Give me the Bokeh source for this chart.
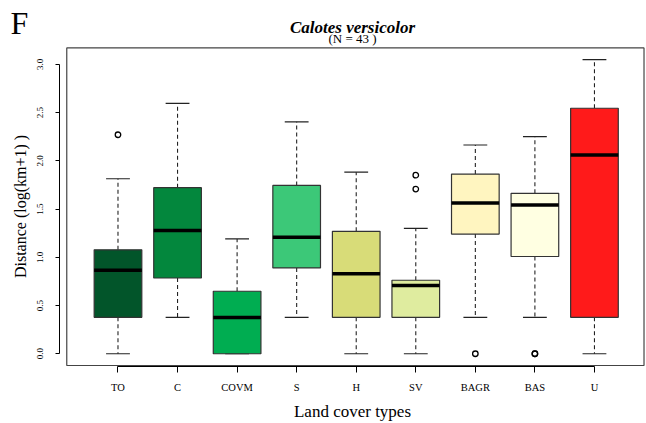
from bokeh.plotting import figure
from bokeh.models import Range1d, FixedTicker, Title, ColumnDataSource
from bokeh.embed import file_html
from bokeh.resources import INLINE

# ---------------- data ----------------
categories = ["TO", "C", "COVM", "S", "H", "SV", "BAGR", "BAS", "U"]
lower_whisker = [0.0, 0.377, 0.0, 0.377, 0.0, 0.0, 0.377, 0.377, 0.0]
q1 = [0.377, 0.785, 0.0, 0.89, 0.377, 0.377, 1.24, 1.008, 0.377]
median = [0.865, 1.277, 0.375, 1.207, 0.83, 0.707, 1.563, 1.543, 2.06]
q3 = [1.077, 1.722, 0.648, 1.745, 1.269, 0.762, 1.862, 1.663, 2.545]
upper_whisker = [1.814, 2.596, 1.19, 2.404, 1.882, 1.30, 2.164, 2.25, 3.048]
outlier_category = ["TO", "SV", "SV", "BAGR", "BAS", "BAS"]
outlier_value = [2.27, 1.851, 1.707, 0.0, 0.0, 0.0]
box_colors = ["#02552A", "#03873D", "#00AD51", "#3CC878", "#D8DC78",
              "#DFEC9F", "#FFF5C0", "#FFFFE2", "#FF1A1A"]
y_ticks = [0.0, 0.5, 1.0, 1.5, 2.0, 2.5, 3.0]
y_tick_labels = ["0.0", "0.5", "1.0", "1.5", "2.0", "2.5", "3.0"]
title_text = "Calotes versicolor"
subtitle_text = "(N = 43 )"
panel_letter = "F"
x_title = "Land cover types"
y_title = "Distance (log(km+1) )"

# ---------------- styling ----------------
SERIF = "Liberation Serif"
BOX_W = 0.8
STAPLE_W = 0.4

xpos = list(range(1, len(categories) + 1))
src = ColumnDataSource(dict(
    x=xpos,
    left=[x - BOX_W / 2 for x in xpos],
    right=[x + BOX_W / 2 for x in xpos],
    sl=[x - STAPLE_W / 2 for x in xpos],
    sr=[x + STAPLE_W / 2 for x in xpos],
    lw=lower_whisker, q1=q1, med=median, q3=q3, uw=upper_whisker,
    color=box_colors,
))
out_src = ColumnDataSource(dict(
    x=[categories.index(c) + 1 for c in outlier_category],
    y=outlier_value,
))

p = figure(width=646, height=423,
           x_range=Range1d(0.018, 9.857), y_range=Range1d(-0.1323, 3.185),
           output_backend="svg", toolbar_location=None,
           min_border_left=59, min_border_right=1,
           min_border_top=46, min_border_bottom=54)
p.outline_line_color = None
p.xgrid.visible = False
p.ygrid.visible = False
p.background_fill_color = "white"
p.border_fill_color = "white"

# plot box (R style, 4% padding around data region)
n = len(categories)
ylo = min(lower_whisker + outlier_value)
yhi = max(upper_whisker + outlier_value)
pad = 0.04 * (yhi - ylo)
p.quad(left=[0.5 - 0.04 * n], right=[9.832], bottom=[ylo - pad], top=[yhi + pad],
       fill_color=None, line_color="#444444", line_width=1.2)

# whiskers
p.segment(x0="x", y0="q3", x1="x", y1="uw", source=src,
          line_color="#222222", line_width=1.1, line_dash="4 3")
p.segment(x0="x", y0="q1", x1="x", y1="lw", source=src,
          line_color="#222222", line_width=1.1, line_dash="4 3")
p.segment(x0="sl", y0="uw", x1="sr", y1="uw", source=src,
          line_color="#222222", line_width=1.2)
p.segment(x0="sl", y0="lw", x1="sr", y1="lw", source=src,
          line_color="#222222", line_width=1.2)
# boxes
p.quad(left="left", right="right", bottom="q1", top="q3", source=src,
       fill_color="color", line_color="#333333", line_width=1.2)
# medians
p.segment(x0="left", y0="med", x1="right", y1="med", source=src,
          line_color="black", line_width=3.5)
# outliers
p.scatter(x="x", y="y", source=out_src, marker="circle", size=5.5,
          fill_color=None, line_color="black", line_width=1.3)

# axes
xa = p.xaxis[0]
xa.ticker = FixedTicker(ticks=xpos)
xa.major_label_overrides = {x: c for x, c in zip(xpos, categories)}
xa.bounds = (1, n)
xa.major_tick_out = 6
xa.major_tick_in = 0
xa.minor_tick_line_color = None
xa.axis_line_color = "black"
xa.axis_line_width = 1.2
xa.major_tick_line_color = "black"
xa.major_label_text_font = SERIF
xa.major_label_text_font_size = "10.5px"
xa.major_label_text_color = "black"
xa.major_label_standoff = 9
xa.axis_label = x_title
xa.axis_label_text_font = SERIF
xa.axis_label_text_font_size = "17px"
xa.axis_label_text_font_style = "normal"
xa.axis_label_text_color = "black"
xa.axis_label_standoff = 6

ya = p.yaxis[0]
ya.ticker = FixedTicker(ticks=y_ticks)
ya.major_label_overrides = {t: s for t, s in zip(y_ticks, y_tick_labels)}
ya.bounds = (y_ticks[0], y_ticks[-1])
ya.major_tick_out = 4
ya.major_tick_in = 0
ya.minor_tick_line_color = None
ya.axis_line_color = "black"
ya.axis_line_width = 1
ya.major_tick_line_color = "black"
ya.major_label_orientation = "vertical"
ya.major_label_text_font = SERIF
ya.major_label_text_font_size = "9px"
ya.major_label_text_color = "black"
ya.major_label_standoff = 12
ya.axis_label = y_title
ya.axis_label_text_font = SERIF
ya.axis_label_text_font_size = "16px"
ya.axis_label_text_font_style = "normal"
ya.axis_label_text_color = "black"
ya.axis_label_standoff = 6

# titles, stacked above the frame (first added = closest to the frame)
p.add_layout(Title(text=subtitle_text, align="center", text_font=SERIF,
                   text_font_size="13px", text_font_style="normal",
                   text_color="black", standoff=2), "above")
p.add_layout(Title(text=title_text, align="center", text_font=SERIF,
                   text_font_size="17px", text_font_style="bold italic",
                   text_color="black", standoff=-18), "above")
p.add_layout(Title(text=panel_letter, align="left", offset=-49, text_font=SERIF,
                   text_font_size="32px", text_font_style="normal",
                   text_color="black", standoff=-32), "above")

open("out.html", "w").write(file_html(p, INLINE))
